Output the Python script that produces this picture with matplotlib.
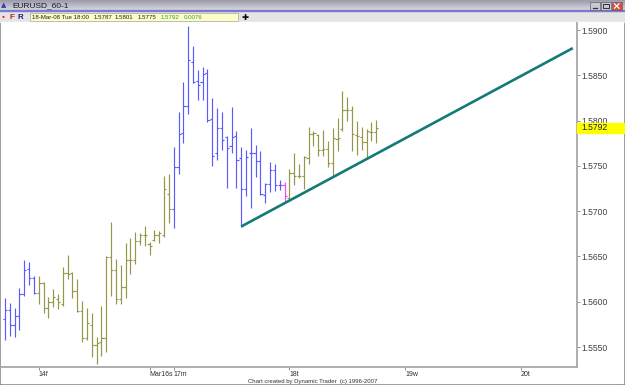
import numpy as np
import matplotlib
matplotlib.use("Agg")
import matplotlib.pyplot as plt
from matplotlib.collections import LineCollection
from matplotlib.patches import Rectangle
import matplotlib.transforms as mtransforms

# ---------------- data (hourly EURUSD bars) ----------------
opens = [1.5581, 1.5591, 1.5574, 1.5584, 1.5608, 1.5636, 1.5626, 1.5610, 1.5621, 1.5593,
         1.5600, 1.5603, 1.5598, 1.5632, 1.5632, 1.5612, 1.5590, 1.5560, 1.5574, 1.5552,
         1.5556, 1.5560, 1.5649, 1.5635, 1.5603, 1.5616, 1.5646, 1.5646, 1.5667, 1.5674,
         1.5664, 1.5668, 1.5674, 1.5674, 1.5719, 1.5702, 1.5749, 1.5786, 1.5816, 1.5865,
         1.5844, 1.5843, 1.5852, 1.5802, 1.5764, 1.5792, 1.5782, 1.5772, 1.5783, 1.5759,
         1.5724, 1.5764, 1.5764, 1.5755, 1.5718, 1.5730, 1.5745, 1.5729, 1.5729, 1.5714,
         1.5742, 1.5739, 1.5739, 1.5759, 1.5785, 1.5784, 1.5768, 1.5769, 1.5753, 1.5780,
         1.5791, 1.5812, 1.5812, 1.5784, 1.5782, 1.5776, 1.5787, 1.5787]
highs = [1.5604, 1.5599, 1.5593, 1.5615, 1.5646, 1.5644, 1.5628, 1.5628, 1.5622, 1.5605,
         1.5614, 1.5609, 1.5638, 1.5652, 1.5633, 1.5625, 1.5601, 1.5593, 1.5587, 1.5561,
         1.5595, 1.5650, 1.5688, 1.5647, 1.5641, 1.5665, 1.5670, 1.5677, 1.5676, 1.5684,
         1.5666, 1.5679, 1.5678, 1.5739, 1.5741, 1.5771, 1.5809, 1.5843, 1.5904, 1.5882,
         1.5856, 1.5859, 1.5857, 1.5825, 1.5814, 1.5809, 1.5783, 1.5815, 1.5788, 1.5771,
         1.5768, 1.5792, 1.5773, 1.5766, 1.5731, 1.5754, 1.5752, 1.5734, 1.5732, 1.5746,
         1.5764, 1.5752, 1.5761, 1.5793, 1.5788, 1.5785, 1.5790, 1.5777, 1.5792, 1.5803,
         1.5833, 1.5826, 1.5816, 1.5799, 1.5793, 1.5791, 1.5798, 1.5801]
lows = [1.5558, 1.5562, 1.5561, 1.5569, 1.5606, 1.5618, 1.5609, 1.5598, 1.5588, 1.5582,
        1.5594, 1.5592, 1.5595, 1.5625, 1.5604, 1.5589, 1.5555, 1.5558, 1.5539, 1.5531,
        1.5540, 1.5545, 1.5606, 1.5598, 1.5598, 1.5604, 1.5631, 1.5642, 1.5663, 1.5661,
        1.5652, 1.5667, 1.5665, 1.5672, 1.5687, 1.5681, 1.5741, 1.5775, 1.5807, 1.5842,
        1.5823, 1.5823, 1.5798, 1.5750, 1.5757, 1.5768, 1.5726, 1.5764, 1.5726, 1.5683,
        1.5717, 1.5703, 1.5738, 1.5718, 1.5709, 1.5721, 1.5722, 1.5723, 1.5711, 1.5713,
        1.5729, 1.5737, 1.5724, 1.5752, 1.5772, 1.5761, 1.5761, 1.5749, 1.5739, 1.5766,
        1.5788, 1.5799, 1.5766, 1.5762, 1.5767, 1.5758, 1.5777, 1.5775]
closes = [1.5591, 1.5574, 1.5584, 1.5608, 1.5635, 1.5626, 1.5610, 1.5621, 1.5593, 1.5600,
          1.5605, 1.5600, 1.5632, 1.5631, 1.5612, 1.5590, 1.5560, 1.5576, 1.5552, 1.5554,
          1.5560, 1.5649, 1.5635, 1.5603, 1.5616, 1.5646, 1.5646, 1.5667, 1.5674, 1.5674,
          1.5662, 1.5674, 1.5676, 1.5724, 1.5702, 1.5749, 1.5785, 1.5816, 1.5867, 1.5843,
          1.5839, 1.5851, 1.5801, 1.5761, 1.5792, 1.5779, 1.5770, 1.5782, 1.5757, 1.5724,
          1.5760, 1.5764, 1.5755, 1.5719, 1.5730, 1.5745, 1.5729, 1.5729, 1.5717, 1.5742,
          1.5739, 1.5739, 1.5760, 1.5785, 1.5786, 1.5768, 1.5769, 1.5753, 1.5781, 1.5781,
          1.5812, 1.5812, 1.5785, 1.5783, 1.5776, 1.5788, 1.5787, 1.5792]
# swing colouring of each bar: b = down swing (blue), o = up swing (olive), m = marked bar
bar_group = ['b'] * 7 + ['o'] * 28 + ['b'] * 23 + ['m'] + ['o'] * 19

# trend line (bar index, price)
trend_x = [49, 117.8]
trend_y = [1.5683, 1.5880]

# time axis labels (bar index positions)
xtick_pos = [7, 30, 35, 59, 83, 107]
xtick_labels = ['14f', 'Mar16s', '17m', '18t', '19w', '20t']
ytick_vals = [1.5550, 1.5600, 1.5650, 1.5700, 1.5750, 1.5800, 1.5850, 1.5900]

symbol = "EURUSD_60-1"
last_stamp = "18-Mar-08 Tue 18:00"
day_change = "0.0076"
credit = "Chart created by Dynamic Trader  (c) 1996-2007"

# ---------------- figure ----------------
W, H = 625, 385
fig = plt.figure(figsize=(W / 100, H / 100), dpi=100)
plt.rcParams['font.family'] = ['Liberation Sans', 'DejaVu Sans']

bg = fig.add_axes([0, 0, 1, 1])
bg.set_xlim(0, W)
bg.set_ylim(H, 0)
bg.axis('off')
bg.add_patch(Rectangle((0, 0), W, H, color='#8a8a8a', zorder=0))
# title bar gradient
grad = np.linspace(0, 1, 20).reshape(-1, 1)
bg.imshow(grad, extent=(0, W, 10, 0), cmap=matplotlib.colors.LinearSegmentedColormap.from_list(
    'tb', ['#9c9caa', '#d6d6de']), aspect='auto', zorder=1)
bg.add_patch(Rectangle((0, 10), W, 1.2, color='#7a7ad0', zorder=2))
bg.add_patch(Rectangle((0, 11.2), W, 11, color='#e4e4e4', zorder=1))
bg.add_patch(Rectangle((1, 22.2), W - 3, H - 24.2, color='white', zorder=1))
bg.text(12, 5.3, symbol, fontsize=6.0, color='#1a1a30', va='center', ha='left', zorder=3)
bg.text(4, 5.3, '▲', fontsize=5, color='#3040a0', va='center', ha='center', zorder=3,
        family=['DejaVu Sans'])
# window buttons
for x0, fc in [(590, '#c8c8d0'), (601, '#c8c8d0'), (612, '#e04a3a')]:
    bg.add_patch(Rectangle((x0, 2), 9.5, 8, facecolor=fc, edgecolor='#606070', lw=0.5, zorder=3))
bg.plot([592.5, 597], [8.2, 8.2], color='#303040', lw=0.9, zorder=4)
bg.add_patch(Rectangle((603, 3.8), 5.5, 4.5, fill=False, edgecolor='#303040', lw=0.7, zorder=4))
bg.plot([614.5, 619], [3.8, 8.2], color='white', lw=0.9, zorder=4)
bg.plot([614.5, 619], [8.2, 3.8], color='white', lw=0.9, zorder=4)
# toolbar
bg.text(3, 17.5, '•', fontsize=6, color='#e02020', va='center', ha='center', zorder=3)
bg.text(12, 17.3, 'F', fontsize=5.8, color='#c02020', va='center', ha='center', weight='bold', zorder=3)
bg.text(20.5, 17.3, 'R', fontsize=5.8, color='#202080', va='center', ha='center', weight='bold', zorder=3)
bg.add_patch(Rectangle((30, 13.2), 208, 8.3, facecolor='#fdfdc8', edgecolor='#a8a8a8', lw=0.5, zorder=2))
bg.text(245, 17.3, '✚', fontsize=6, color='black', va='center', ha='center', zorder=3,
        family=['DejaVu Sans'])
hdr = [(32, last_stamp, '#202020'), (94, f"{opens[-1]:.4f}", '#202020'),
       (115, f"{highs[-1]:.4f}", '#202020'), (138, f"{lows[-1]:.4f}", '#202020'),
       (161, f"{closes[-1]:.4f}", '#3a9a3a'), (184, day_change, '#3a9a3a')]
for x0, s, c in hdr:
    bg.text(x0, 17.5, s, fontsize=4.4, color=c, va='center', ha='left', zorder=3)
bg.text(313, 381.2, credit, fontsize=4.3, color='#303030', va='center', ha='center', zorder=3)

# ---------------- chart axes ----------------
px_left, px_right, px_top, px_bot = 1, 577, 23, 367
ax = fig.add_axes([px_left / W, 1 - px_bot / H, (px_right - px_left) / W, (px_bot - px_top) / H])
ax.patch.set_alpha(0)
ax.set_xlim(-0.83, 118.67)
ax.set_ylim(1.552792, 1.590773)

col = {'b': '#5a5aff', 'o': '#96964a', 'm': '#ff40ff'}
tick = 0.45
segs, cols = [], []
for i in range(len(opens)):
    c = col[bar_group[i]]
    segs += [[(i, lows[i]), (i, highs[i])],
             [(i - tick, opens[i]), (i, opens[i])],
             [(i, closes[i]), (i + tick, closes[i])]]
    cols += [c, c, c]
ax.add_collection(LineCollection(segs, colors=cols, linewidths=0.85))

ax.plot(trend_x, trend_y, color='#147a78', lw=1.9, solid_capstyle='butt')

for s in ['left', 'top']:
    ax.spines[s].set_visible(False)
for s in ['right', 'bottom']:
    ax.spines[s].set_color('#a8a8a8')
    ax.spines[s].set_linewidth(1.3)

ax.yaxis.tick_right()
ax.set_yticks(ytick_vals)
ax.set_yticklabels([f"{v:.4f}" for v in ytick_vals])
ax.tick_params(axis='y', direction='out', length=2, width=0.6, color='#808080',
               labelsize=6.2, labelcolor='#404040', pad=1)
ax.set_xticks(xtick_pos)
ax.set_xticklabels(xtick_labels, ha='left')
ax.tick_params(axis='x', direction='out', length=2.5, width=0.6, color='#808080',
               labelsize=5.0, labelcolor='#303030', pad=0.5)

# current price tag (partly covers the 1.5800 label, as in the reference)
tr = mtransforms.blended_transform_factory(ax.transAxes, ax.transData)
last = closes[-1]
ax.add_patch(Rectangle((1.0, last - 0.00052), 47 / 576, 0.00104, transform=tr,
                       color='#ffff00', clip_on=False, zorder=5))
ax.text(1.0 + 4 / 576, last, f"{last:.4f}", transform=tr, fontsize=6.2, color='#202020',
        va='center', ha='left', zorder=6, clip_on=False)

fig.savefig('out.png', dpi=100)
